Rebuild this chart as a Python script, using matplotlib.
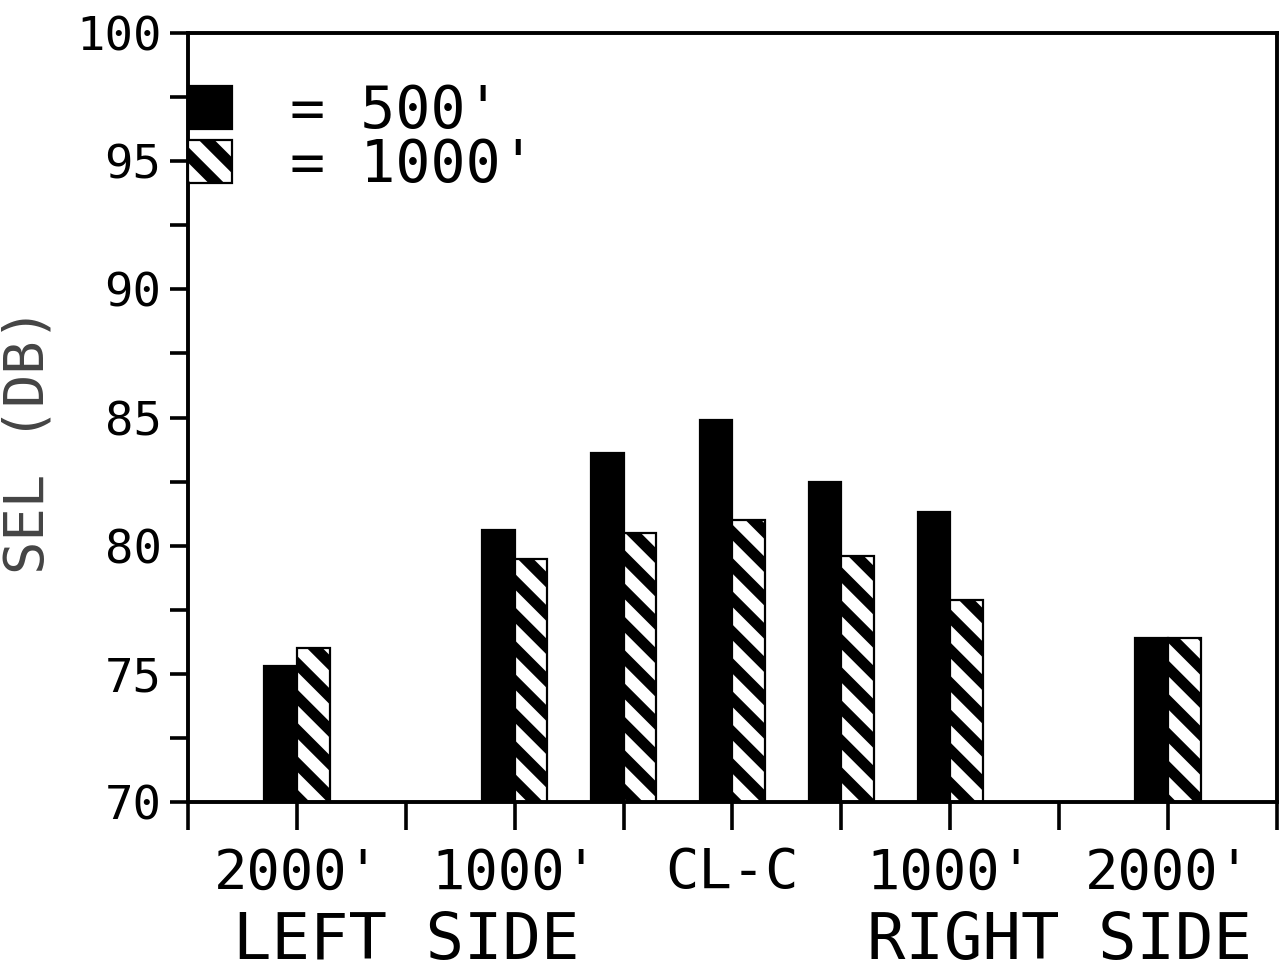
import numpy as np
import matplotlib.pyplot as plt

# positions along the flight track (0 = left edge, 10 = right edge)
pos = np.array([1, 3, 4, 5, 6, 7, 9])
sel_500 = np.array([75.3, 80.6, 83.6, 84.9, 82.5, 81.3, 76.4])
sel_1000 = np.array([76.0, 79.5, 80.5, 81.0, 79.6, 77.9, 76.4])

tick_pos = np.arange(0, 11)
tick_lab = ['', "2000'", '', "1000'", '', 'CL-C', '', "1000'", '', "2000'", '']
side_pos = [2, 8]
side_lab = ['LEFT SIDE', 'RIGHT SIDE']

plt.rcParams['font.family'] = 'DejaVu Sans Mono'
plt.rcParams['hatch.linewidth'] = 4.0

fig = plt.figure(figsize=(6.41, 4.855), dpi=200)
ax = fig.add_axes([0.1466, 0.174, 0.8495, 0.792])

w = 0.3
b1 = ax.bar(pos - w/2, sel_500 - 70, w, bottom=70, color='black', edgecolor='black', linewidth=0.8)
b2 = ax.bar(pos + w/2, sel_1000 - 70, w, bottom=70, color='white', edgecolor='black',
            linewidth=0.8, hatch='\\\\')

ax.set_xlim(0, 10)
ax.set_ylim(70, 100)
ax.set_yticks(np.arange(70, 101, 5))
ax.set_yticks(np.arange(70, 100, 2.5), minor=True)
ax.set_xticks(tick_pos)
ax.set_xticklabels(tick_lab, fontsize=20)
ax.tick_params(axis='y', which='both', direction='out', length=6.5, width=1.3, labelsize=17, pad=3)
ax.tick_params(axis='x', direction='out', length=10, width=1.3, pad=6)
for s in ax.spines.values():
    s.set_linewidth(1.4)

for x, t in zip(side_pos, side_lab):
    ax.text(x, -0.14, t, transform=ax.get_xaxis_transform(), ha='center', va='top', fontsize=23)

ax.set_ylabel('SEL (DB)', fontsize=20, color='#444444')
ax.yaxis.set_label_coords(-0.122, 0.47)

ax.legend([b1, b2], ["= 500'", "= 1000'"], loc='upper left', bbox_to_anchor=(0.0, 0.935),
          frameon=False, borderaxespad=0, borderpad=0, fontsize=21,
          handlelength=0.75, handleheight=0.75, handletextpad=1.0, labelspacing=-0.05)

plt.savefig('out.png', dpi=200)
